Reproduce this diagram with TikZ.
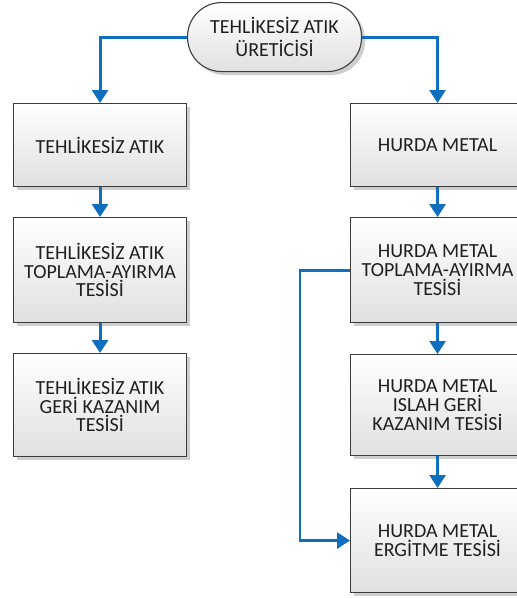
\documentclass[tikz,border=0pt]{standalone}
\usepackage{fontspec}
\setmainfont{Carlito}
\usetikzlibrary{arrows.meta,shadows,positioning}
\definecolor{flowblue}{RGB}{16,110,190}
\definecolor{boxedge}{RGB}{60,60,60}
\definecolor{boxbot}{RGB}{224,224,224}
\tikzset{
  stagebox/.style={draw=boxedge, line width=1.1pt, top color=white, bottom color=boxbot,
    drop shadow={shadow xshift=3.5pt, shadow yshift=-3.5pt, fill=black!35, opacity=0.55},
    align=center, font=\fontsize{20}{18.8}\selectfont, text=black!88,
    inner sep=0pt, anchor=north west},
  flow/.style={draw=flowblue, line width=2.9pt, -{Triangle[width=16pt,length=13pt]}}
}
\begin{document}
\begin{tikzpicture}[x=1pt,y=-1pt]
\useasboundingbox (0,0) rectangle (517,598);
% terminal
\node[stagebox, rounded corners=34pt, minimum width=174pt, minimum height=69pt, font=\fontsize{20}{23.5}\selectfont] (src) at (187,2) {TEHLİKESİZ ATIK\\ÜRETİCİSİ};
% left column
\node[stagebox, minimum width=173pt, minimum height=83pt] (l1) at (13,103) {TEHLİKESİZ ATIK};
\node[stagebox, minimum width=173pt, minimum height=105pt] (l2) at (13,217) {TEHLİKESİZ ATIK\\TOPLAMA-AYIRMA\\TESİSİ};
\node[stagebox, minimum width=173pt, minimum height=103pt] (l3) at (13,353) {TEHLİKESİZ ATIK\\GERİ KAZANIM\\TESİSİ};
% right column
\node[stagebox, minimum width=174pt, minimum height=83pt] (r1) at (350,103) {HURDA METAL};
\node[stagebox, minimum width=174pt, minimum height=105pt] (r2) at (350,217) {HURDA METAL\\TOPLAMA-AYIRMA\\TESİSİ};
\node[stagebox, minimum width=174pt, minimum height=101pt] (r3) at (350,354) {HURDA METAL\\ISLAH GERİ\\KAZANIM TESİSİ};
\node[stagebox, minimum width=174pt, minimum height=104pt] (r4) at (350,488) {HURDA METAL\\ERGİTME TESİSİ};
% connectors
\draw[flow] (src.west) -| (l1.north);
\draw[flow] (src.east) -| (r1.north);
\draw[flow] (l1.south) -- (l2.north);
\draw[flow] (l2.south) -- (l3.north);
\draw[flow] (r1.south) -- (r2.north);
\draw[flow] (r2.south) -- (r3.north);
\draw[flow] (r3.south) -- (r4.north);
\coordinate (fbtop) at (300,0);
\draw[flow] (r2.west) -- (fbtop |- r2.west) -- (fbtop |- r4.west) -- (r4.west);
\end{tikzpicture}
\end{document}
